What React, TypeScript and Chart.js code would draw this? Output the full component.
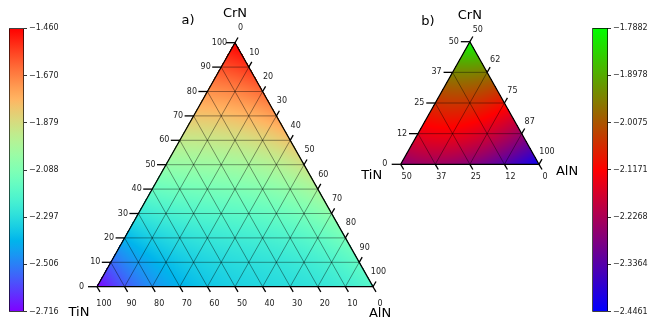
import React, { useEffect, useRef } from 'react';
import { Chart, registerables } from 'chart.js';

Chart.register(...registerables);

const FONT = 'DejaVu Sans';
const SQ = Math.sqrt(3) / 2;

// ---------- Panel a: CrN–TiN–AlN (full range) ----------
const axisStepsA = [0, 10, 20, 30, 40, 50, 60, 70, 80, 90, 100];
const leftLabelsA = ['0', '10', '20', '30', '40', '50', '60', '70', '80', '90', '100']; // CrN, bottom -> top
const rightLabelsA = ['0', '10', '20', '30', '40', '50', '60', '70', '80', '90', '100']; // AlN, top -> bottom-right
const bottomLabelsA = ['0', '10', '20', '30', '40', '50', '60', '70', '80', '90', '100']; // TiN, right -> left
// field values at composition nodes: CrN, TiN, AlN corners; CrN/TiN edge (2/3,1/3),(1/3,2/3);
// TiN/AlN edge (2/3,1/3),(1/3,2/3); AlN/CrN edge (2/3,1/3),(1/3,2/3); centre
const nodeValuesA = [-1.46, -2.716, -2.188, -1.849, -2.226, -2.389, -2.302, -2.025, -1.749, -2.151];
const cbRangeA = [-2.716, -1.46];
const cbTicksA = [-1.46, -1.67, -1.879, -2.088, -2.297, -2.506, -2.716];
const cbLabelsA = ['\u22121.460', '\u22121.670', '\u22121.879', '\u22122.088', '\u22122.297', '\u22122.506', '\u22122.716'];

// ---------- Panel b: CrN 0–50, TiN 0–50, AlN 50–100 ----------
const axisStepsB = [0, 12.5, 25, 37.5, 50];
const leftLabelsB = ['0', '12', '25', '37', '50'];
const rightLabelsB = ['50', '62', '75', '87', '100'];
const bottomLabelsB = ['0', '12', '25', '37', '50'];
const nodeValuesB = [-1.7882, -2.268, -2.433, -1.985, -2.117, -2.249, -2.315, -2.196, -2.005, -2.117];
const cbRangeB = [-2.4461, -1.7882];
const cbTicksB = [-1.7882, -1.8978, -2.0075, -2.1171, -2.2268, -2.3364, -2.4461];
const cbLabelsB = ['\u22121.7882', '\u22121.8978', '\u22122.0075', '\u22122.1171', '\u22122.2268', '\u22122.3364', '\u22122.4461'];

const clamp = (v: number) => Math.max(0, Math.min(1, v));

function rainbow(x: number): number[] {
  return [clamp(Math.abs(2 * x - 0.5)), clamp(Math.sin(Math.PI * x)), clamp(Math.cos((Math.PI * x) / 2))];
}
function blueRedGreen(x: number): number[] {
  if (x < 0.5) return [2 * x, 0, 1 - 2 * x];
  return [2 - 2 * x, 2 * x - 1, 0];
}

function fieldValue(vals: number[], L1: number, L2: number, L3: number) {
  const v = (L: number) => 0.5 * L * (3 * L - 1) * (3 * L - 2);
  const e = (Li: number, Lj: number) => 4.5 * Li * Lj * (3 * Li - 1);
  return (
    vals[0] * v(L1) + vals[1] * v(L2) + vals[2] * v(L3) +
    vals[3] * e(L1, L2) + vals[4] * e(L2, L1) +
    vals[5] * e(L2, L3) + vals[6] * e(L3, L2) +
    vals[7] * e(L3, L1) + vals[8] * e(L1, L3) +
    vals[9] * 27 * L1 * L2 * L3
  );
}

const toXY = (c: number, t: number, a: number) => ({ x: a + c / 2, y: c * SQ });

type PanelCfg = {
  left: number; width: number; height: number;
  pad: { left: number; right: number; top: number; bottom: number };
  steps: number[];
  leftLabels: string[]; rightLabels: string[]; bottomLabels: string[];
  values: number[]; range: number[]; cmap: (x: number) => number[];
  leftDx: number; rightOff: number[]; bottomOff: number[];
  titles: { text: string; corner: 'top' | 'left' | 'right'; dx: number; dy: number }[];
};

const panelA: PanelCfg = {
  left: 40, width: 360, height: 322,
  pad: { left: 57, right: 27, top: 42.7, bottom: 35.3 },
  steps: axisStepsA,
  leftLabels: leftLabelsA, rightLabels: rightLabelsA, bottomLabels: bottomLabelsA,
  values: nodeValuesA, range: cbRangeA, cmap: rainbow,
  leftDx: -15.5, rightOff: [5.5, -14.5], bottomOff: [7, 17],
  titles: [
    { text: 'CrN', corner: 'top', dx: 0, dy: -29 },
    { text: 'a)', corner: 'top', dx: -47, dy: -22 },
    { text: 'TiN', corner: 'left', dx: -18, dy: 26 },
    { text: 'AlN', corner: 'right', dx: 7, dy: 27 },
  ],
};

const panelB: PanelCfg = {
  left: 360, width: 232, height: 322,
  pad: { left: 40.7, right: 53, top: 41.7, bottom: 157.7 },
  steps: axisStepsB,
  leftLabels: leftLabelsB, rightLabels: rightLabelsB, bottomLabels: bottomLabelsB,
  values: nodeValuesB, range: cbRangeB, cmap: blueRedGreen,
  leftDx: -16, rightOff: [8, -12], bottomOff: [6, 13],
  titles: [
    { text: 'CrN', corner: 'top', dx: 0, dy: -26 },
    { text: 'b)', corner: 'top', dx: -42, dy: -20 },
    { text: 'TiN', corner: 'left', dx: -29, dy: 11 },
    { text: 'AlN', corner: 'right', dx: 28, dy: 7 },
  ],
};

function TernaryPanel({ cfg }: { cfg: PanelCfg }) {
  const ref = useRef<HTMLCanvasElement>(null);
  useEffect(() => {
    const canvas = ref.current!;
    const max = cfg.steps[cfg.steps.length - 1];
    const min = cfg.steps[0];
    const fr = (s: number) => (s - min) / (max - min);
    const gridStyle = { borderColor: 'rgba(0,0,0,0.5)', borderWidth: 0.8, showLine: true, pointRadius: 0, tension: 0 };
    const datasets: any[] = [];
    cfg.steps.slice(1, -1).forEach((s) => {
      const f = fr(s);
      datasets.push({ ...gridStyle, data: [toXY(f, 1 - f, 0), toXY(f, 0, 1 - f)] });
      datasets.push({ ...gridStyle, data: [toXY(0, 1 - f, f), toXY(1 - f, 0, f)] });
      datasets.push({ ...gridStyle, data: [toXY(0, f, 1 - f), toXY(1 - f, f, 0)] });
    });
    datasets.push({
      borderColor: '#000', borderWidth: 1.3, showLine: true, pointRadius: 0, clip: false,
      data: [toXY(0, 1, 0), toXY(0, 0, 1), toXY(1, 0, 0), toXY(0, 1, 0)],
    });

    const heat = {
      id: 'heat',
      beforeDatasetsDraw(chart: any) {
        const { left, right, top, bottom } = chart.chartArea;
        const xs = chart.scales.x, ys = chart.scales.y;
        const x0 = Math.floor(left), x1 = Math.ceil(right), y0 = Math.floor(top), y1 = Math.ceil(bottom);
        const w = x1 - x0, h = y1 - y0;
        const off = document.createElement('canvas');
        off.width = w; off.height = h;
        const octx = off.getContext('2d')!;
        const img = octx.createImageData(w, h);
        const [vmin, vmax] = cfg.range;
        for (let j = 0; j < h; j++) {
          const Y = ys.getValueForPixel(y0 + j + 0.5);
          for (let i = 0; i < w; i++) {
            const X = xs.getValueForPixel(x0 + i + 0.5);
            let c = Y / SQ, a = X - c / 2, t = 1 - c - a;
            const tol = -0.003;
            if (c < tol || a < tol || t < tol) continue;
            c = clamp(c); a = clamp(a); t = clamp(t);
            const v = fieldValue(cfg.values, c, t, a);
            const col = cfg.cmap(clamp((v - vmin) / (vmax - vmin)));
            const k = (j * w + i) * 4;
            img.data[k] = col[0] * 255;
            img.data[k + 1] = col[1] * 255;
            img.data[k + 2] = col[2] * 255;
            img.data[k + 3] = 255;
          }
        }
        octx.putImageData(img, 0, 0);
        chart.ctx.drawImage(off, x0, y0);
      },
    };

    const labels = {
      id: 'ternLabels',
      afterDatasetsDraw(chart: any) {
        const ctx = chart.ctx;
        const xs = chart.scales.x, ys = chart.scales.y;
        const P = (c: number, t: number, a: number) => {
          const p = toXY(c, t, a);
          return { x: xs.getPixelForValue(p.x), y: ys.getPixelForValue(p.y) };
        };
        ctx.save();
        ctx.strokeStyle = '#000';
        ctx.lineWidth = 1.3;
        ctx.fillStyle = '#222';
        ctx.font = `8px "${FONT}"`;
        ctx.textBaseline = 'middle';
        ctx.textAlign = 'center';
        const tl = 6;
        cfg.steps.forEach((s, i) => {
          const f = fr(s);
          // left axis (CrN)
          let p = P(f, 1 - f, 0);
          ctx.beginPath(); ctx.moveTo(p.x, p.y); ctx.lineTo(p.x - 9, p.y); ctx.stroke();
          ctx.fillText(cfg.leftLabels[i], p.x + cfg.leftDx, p.y);
          // right axis (AlN)
          p = P(1 - f, 0, f);
          ctx.beginPath(); ctx.moveTo(p.x, p.y); ctx.lineTo(p.x + 0.5 * tl, p.y - SQ * tl); ctx.stroke();
          ctx.fillText(cfg.rightLabels[i], p.x + cfg.rightOff[0], p.y + cfg.rightOff[1]);
          // bottom axis (TiN)
          p = P(0, f, 1 - f);
          ctx.beginPath(); ctx.moveTo(p.x, p.y); ctx.lineTo(p.x + 0.5 * tl, p.y + SQ * tl); ctx.stroke();
          ctx.fillText(cfg.bottomLabels[i], p.x + cfg.bottomOff[0], p.y + cfg.bottomOff[1]);
        });
        ctx.fillStyle = '#000';
        ctx.font = `13px "${FONT}"`;
        const corners = { top: P(1, 0, 0), left: P(0, 1, 0), right: P(0, 0, 1) };
        cfg.titles.forEach((tt) => {
          const p = corners[tt.corner];
          ctx.fillText(tt.text, p.x + tt.dx, p.y + tt.dy);
        });
        ctx.restore();
      },
    };

    const chart = new Chart(canvas, {
      type: 'scatter',
      data: { datasets },
      options: {
        animation: false,
        responsive: false,
        events: [],
        layout: { padding: cfg.pad },
        plugins: { legend: { display: false }, tooltip: { enabled: false } },
        scales: {
          x: { type: 'linear', min: 0, max: 1, display: false },
          y: { type: 'linear', min: 0, max: SQ, display: false },
        },
      },
      plugins: [heat, labels],
    } as any);
    return () => chart.destroy();
  }, [cfg]);
  return (
    <canvas
      ref={ref}
      width={cfg.width}
      height={cfg.height}
      style={{ position: 'absolute', left: cfg.left, top: 0, width: cfg.width, height: cfg.height }}
    />
  );
}

type BarCfg = {
  left: number; width: number; padLeft: number; padTop: number; padBottom: number; axisW: number;
  range: number[]; ticks: number[]; labels: string[]; cmap: (x: number) => number[];
};

const barA: BarCfg = { left: 0, width: 70, padLeft: 9, padTop: 28.3, padBottom: 10.3, axisW: 46, range: cbRangeA, ticks: cbTicksA, labels: cbLabelsA, cmap: rainbow };
const barB: BarCfg = { left: 560, width: 92, padLeft: 32.3, padTop: 28, padBottom: 10.3, axisW: 44, range: cbRangeB, ticks: cbTicksB, labels: cbLabelsB, cmap: blueRedGreen };

function ColorBar({ cfg }: { cfg: BarCfg }) {
  const ref = useRef<HTMLCanvasElement>(null);
  useEffect(() => {
    const canvas = ref.current!;
    const [vmin, vmax] = cfg.range;
    const chart = new Chart(canvas, {
      type: 'bar',
      data: {
        labels: [''],
        datasets: [{
          data: [[vmin, vmax]],
          backgroundColor: (context: any) => {
            const area = context.chart.chartArea;
            if (!area) return '#888';
            const g = context.chart.ctx.createLinearGradient(0, area.bottom, 0, area.top);
            for (let i = 0; i <= 40; i++) {
              const c = cfg.cmap(i / 40);
              g.addColorStop(i / 40, `rgb(${Math.round(c[0] * 255)},${Math.round(c[1] * 255)},${Math.round(c[2] * 255)})`);
            }
            return g;
          },
          borderColor: '#000',
          borderWidth: 1,
          borderSkipped: false,
          barPercentage: 1,
          categoryPercentage: 1,
        }],
      },
      options: {
        animation: false,
        responsive: false,
        events: [],
        layout: { padding: { left: cfg.padLeft, top: cfg.padTop, bottom: cfg.padBottom, right: 0 } },
        plugins: { legend: { display: false }, tooltip: { enabled: false } },
        scales: {
          x: { display: false },
          y: {
            position: 'right',
            min: vmin,
            max: vmax,
            afterBuildTicks: (s: any) => { s.ticks = cfg.ticks.map((v) => ({ value: v })); },
            afterFit: (s: any) => { s.width = cfg.axisW; },
            ticks: {
              autoSkip: false,
              padding: 2,
              color: '#222',
              font: { size: 8, family: FONT },
              callback: (_v: any, i: number) => cfg.labels[i],
            },
            grid: { drawOnChartArea: false, drawTicks: true, tickLength: 3, color: '#000', lineWidth: 0.8 },
            border: { display: false },
          },
        },
      },
    } as any);
    return () => chart.destroy();
  }, [cfg]);
  return (
    <canvas
      ref={ref}
      width={cfg.width}
      height={322}
      style={{ position: 'absolute', left: cfg.left, top: 0, width: cfg.width, height: 322 }}
    />
  );
}

export default function App() {
  return (
    <div style={{ position: 'fixed', left: 0, top: 0, width: 652, height: 322, background: '#fff', overflow: 'hidden' }}>
      <TernaryPanel cfg={panelA} />
      <TernaryPanel cfg={panelB} />
      <ColorBar cfg={barA} />
      <ColorBar cfg={barB} />
    </div>
  );
}
